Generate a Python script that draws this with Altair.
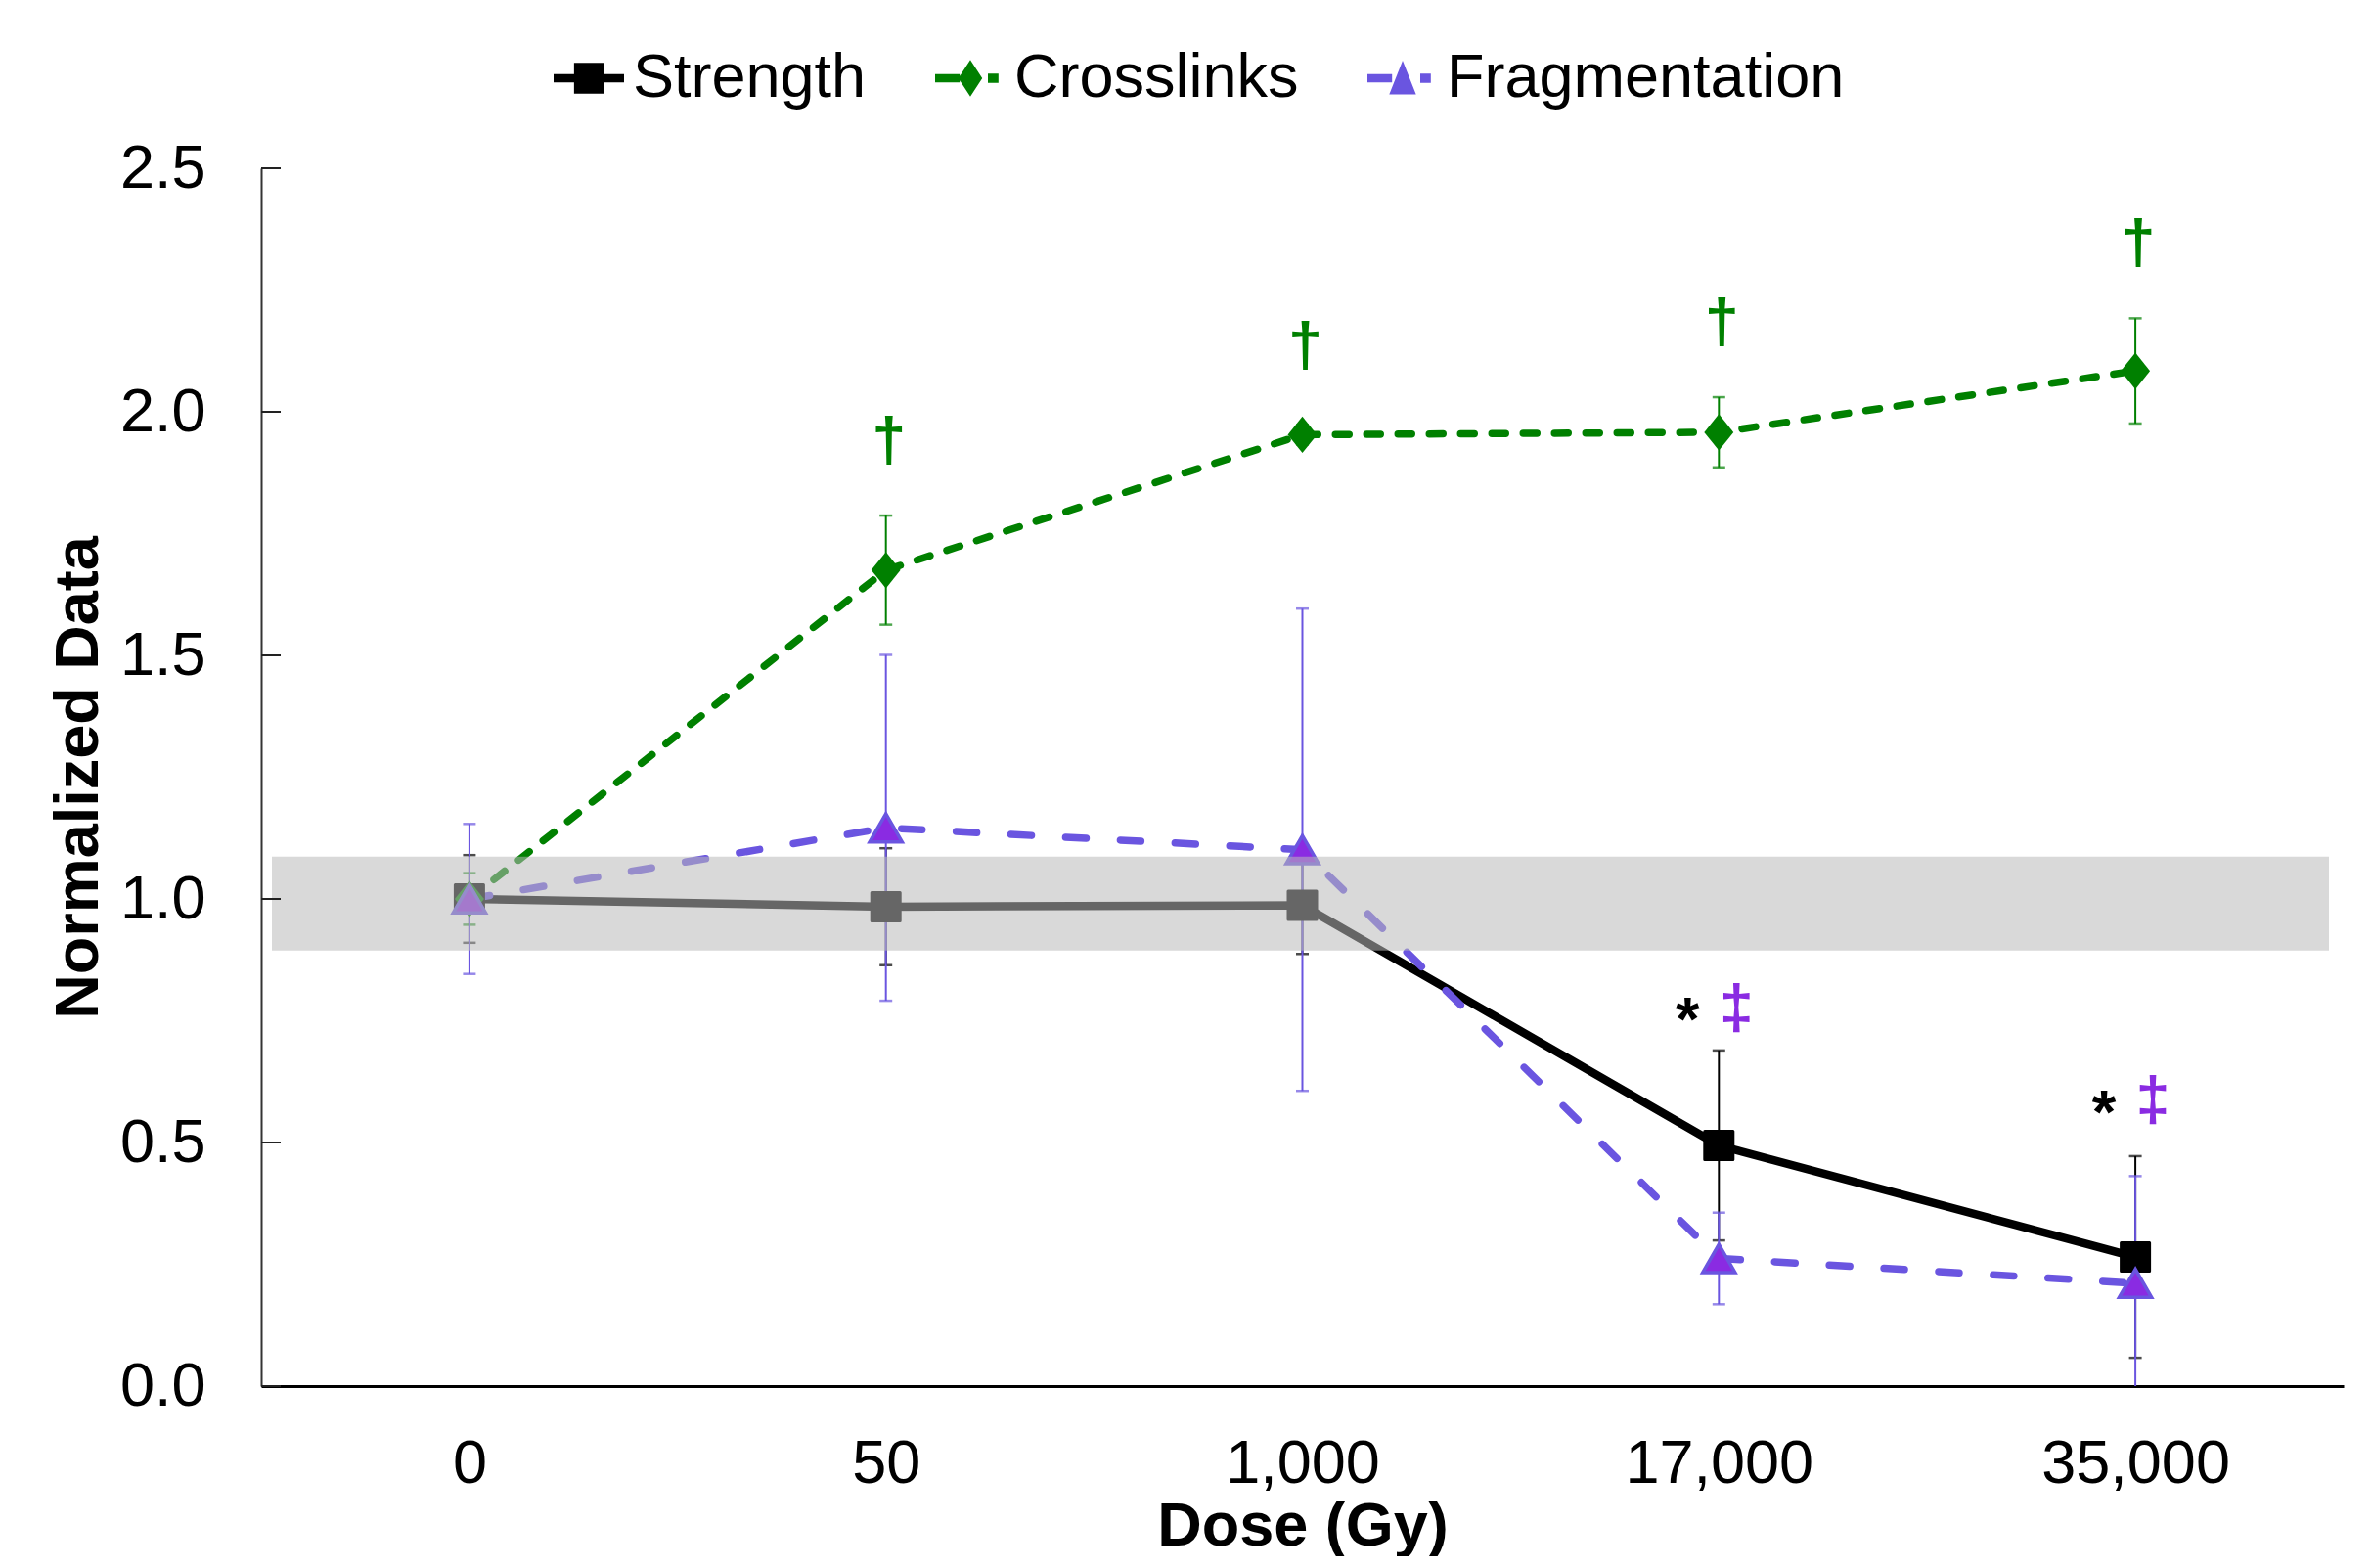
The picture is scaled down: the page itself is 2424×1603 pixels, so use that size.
import altair as alt
import pandas as pd

# ---------------- data ----------------
doses = ["0", "50", "1,000", "17,000", "35,000"]
series_names = ["Strength", "Crosslinks", "Fragmentation"]

strength = [1.0, 0.984, 0.987, 0.494, 0.265]
strength_err = [0.09, 0.12, 0.10, 0.195, 0.207]
crosslinks = [1.0, 1.675, 1.953, 1.958, 2.084]
crosslinks_err = [0.053, 0.112, 0.02, 0.072, 0.108]
fragmentation = [1.0, 1.146, 1.101, 0.262, 0.211]
fragmentation_err = [0.154, 0.355, 0.495, 0.094, 0.22]

y_ticks = [0.0, 0.5, 1.0, 1.5, 2.0, 2.5]
band_low = [0.894]
band_high = [1.087]

dagger_doses = ["50", "1,000", "17,000", "35,000"]
dagger_y = [1.937, 2.132, 2.180, 2.343]
star_doses = ["17,000", "35,000"]
star_y = [0.783, 0.593]
ddagger_y = [0.773, 0.584]

# ---------------- styles ----------------
FONT = "Liberation Sans"
FS = 63
BLACK = "#000000"
GREEN = "#008000"
PURPLE_LINE = "#6A55E0"
PURPLE_FILL = "#8A2BE2"
W, H = 2129, 1245

rows = []
for name, vals, errs in [("Strength", strength, strength_err),
                         ("Crosslinks", crosslinks, crosslinks_err),
                         ("Fragmentation", fragmentation, fragmentation_err)]:
    for d, v, e in zip(doses, vals, errs):
        rows.append({"dose": d, "series": name, "value": v, "lo": v - e, "hi": v + e})
df = pd.DataFrame(rows)

x_axis = alt.Axis(labelAngle=0, ticks=False, grid=False, domainColor=BLACK, domainWidth=3,
                  labelFont=FONT, labelFontSize=FS, labelColor=BLACK, labelPadding=48,
                  labelLimit=1000, labelOverlap=False,
                  titleFont=FONT, titleFontSize=FS, titleFontWeight="bold", titleColor=BLACK,
                  titleY=112, titleBaseline="top")
y_axis = alt.Axis(values=y_ticks, format=".1f", ticks=False, grid=False, domainColor="#333333",
                  domainWidth=2, labelFont=FONT, labelFontSize=FS, labelColor=BLACK, labelPadding=57,
                  titleFont=FONT, titleFontSize=FS, titleFontWeight="bold", titleColor=BLACK,
                  titleX=-187, titleBaseline="middle")

x_scale = alt.Scale(type="point", domain=doses, padding=0.5)
y_scale = alt.Scale(domain=[0, 2.5], nice=False, zero=True)

X = alt.X("dose:N", scale=x_scale, axis=x_axis, title="Dose (Gy)")


def Y(field="value"):
    return alt.Y(f"{field}:Q", scale=y_scale, axis=y_axis, title="Normalized Data")


base = alt.Chart(df)


def sel(name):
    return base.transform_filter(alt.datum.series == name)


line_s = sel("Strength").mark_line(color=BLACK, strokeWidth=8.5).encode(x=X, y=Y())
line_c = sel("Crosslinks").mark_line(color=GREEN, strokeWidth=7.5, strokeDash=[14, 18],
                                     strokeCap="round").encode(x=X, y=Y())
line_f = sel("Fragmentation").mark_line(color=PURPLE_LINE, strokeWidth=7.5, strokeDash=[21, 35],
                                        strokeCap="round").encode(x=X, y=Y())


def errbars(name, color):
    c = sel(name)
    r = c.mark_rule(color=color, strokeWidth=2, clip=True).encode(
        x=X, y=Y("lo"), y2="hi:Q")
    t1 = c.mark_tick(color=color, size=13, thickness=2.5, orient="horizontal", clip=True).encode(
        x=X, y=Y("lo"))
    t2 = c.mark_tick(color=color, size=13, thickness=2.5, orient="horizontal", clip=True).encode(
        x=X, y=Y("hi"))
    return [r, t1, t2]


pts_s = sel("Strength").mark_point(shape="square", filled=True, size=841, color=BLACK,
                                   stroke=BLACK, strokeWidth=3, strokeJoin="round",
                                   opacity=1).encode(x=X, y=Y())
pts_c = sel("Crosslinks").mark_point(shape="M0,-1L0.8,0L0,1L-0.8,0Z", filled=True, size=1400,
                                     color=GREEN, opacity=1).encode(x=X, y=Y())
pts_f = sel("Fragmentation").mark_point(shape="triangle-up", filled=True, size=1100,
                                        color=PURPLE_FILL, stroke=PURPLE_LINE, strokeWidth=3.5,
                                        opacity=1).encode(x=X, y=Y())

band_df = pd.DataFrame({"lo": band_low, "hi": band_high})
band = alt.Chart(band_df).mark_rect(color="#bababa", opacity=0.55).encode(
    x=alt.value(11), x2=alt.value(W - 15),
    y=alt.Y("lo:Q", scale=y_scale, axis=y_axis, title="Normalized Data"), y2="hi:Q")

tick_df = pd.DataFrame({"t": y_ticks})
yticks = alt.Chart(tick_df).mark_rule(color="#222222", strokeWidth=2).encode(
    x=alt.value(0), x2=alt.value(20),
    y=alt.Y("t:Q", scale=y_scale, axis=y_axis, title="Normalized Data"))

dag_df = pd.DataFrame({"dose": dagger_doses, "value": dagger_y, "txt": ["\u2020"] * len(dagger_doses)})
daggers = alt.Chart(dag_df).mark_text(font=FONT, fontSize=FS, fontWeight="bold", color=GREEN,
                                      baseline="middle", dx=3).encode(x=X, y=Y(), text="txt:N")

star_df = pd.DataFrame({"dose": star_doses, "value": star_y, "txt": ["*"] * len(star_doses)})
stars = alt.Chart(star_df).mark_text(font=FONT, fontSize=FS, fontWeight="bold", color=BLACK,
                                     baseline="middle", dx=-32, dy=17).encode(x=X, y=Y(), text="txt:N")

dd_df = pd.DataFrame({"dose": star_doses, "value": ddagger_y, "txt": ["\u2021"] * len(star_doses)})
ddaggers = alt.Chart(dd_df).mark_text(font=FONT, fontSize=FS, fontWeight="bold", color=PURPLE_FILL,
                                      baseline="middle", dx=18).encode(x=X, y=Y(), text="txt:N")

legend_paths = [
    "M-1,-0.12H1V0.12H-1Z M-0.42,-0.44H0.42V0.44H-0.42Z",
    "M-1,-0.12H-0.3V0.12H-1Z M0,-0.52L0.34,0L0,0.52L-0.34,0Z M0.5,-0.13H0.8V0.13H0.5Z",
    "M-1,-0.12H-0.3V0.12H-1Z M0,-0.5L0.38,0.46L-0.38,0.46Z M0.5,-0.13H0.8V0.13H0.5Z",
]
leg = alt.Legend(orient="none", legendX=299, legendY=-128, direction="horizontal",
                 symbolSize=5184, symbolStrokeWidth=0, labelFont=FONT, labelFontSize=FS,
                 labelColor=BLACK, columnPadding=70, labelOffset=9, padding=0,
                 labelLimit=1000)
legend_layer = base.transform_filter("false").mark_point(filled=True, opacity=1).encode(
    x=X, y=Y(),
    color=alt.Color("series:N", scale=alt.Scale(domain=series_names,
                                                range=[BLACK, GREEN, PURPLE_LINE]),
                    legend=leg, title=None),
    shape=alt.Shape("series:N", scale=alt.Scale(domain=series_names, range=legend_paths),
                    legend=leg, title=None),
)

layers = ([line_s, line_c, line_f]
          + errbars("Strength", BLACK) + errbars("Crosslinks", GREEN)
          + errbars("Fragmentation", PURPLE_LINE)
          + [pts_s, pts_c, pts_f, band, yticks, daggers, stars, ddaggers, legend_layer])

chart = alt.layer(*layers).properties(
    width=W, height=H,
    autosize=alt.AutoSizeParams(type="none"),
    padding={"left": 259, "top": 164, "right": 12, "bottom": 174},
    background="white",
).configure(font=FONT).configure_view(strokeWidth=0, stroke="transparent")

chart.save("out.html", embed_options={"renderer": "svg", "actions": False})
